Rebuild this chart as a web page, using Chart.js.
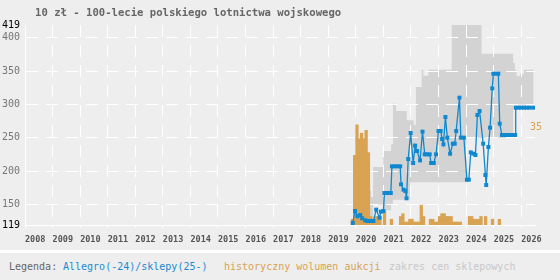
<!DOCTYPE html>
<html>
<head>
<meta charset="utf-8">
<script src="https://cdn.jsdelivr.net/npm/chart.js@4.4.1/dist/chart.umd.min.js"></script>
<style>
  body { margin: 0; background: #eeeeee; }
  #box { position: relative; width: 560px; height: 280px; overflow: hidden; background: #eeeeee; font-family: "DejaVu Sans Mono", monospace; }
  #title { position: absolute; left: 35px; top: 6px; font-size: 10.6px; line-height: 13px; font-weight: bold; color: #666; white-space: pre; }
  canvas { position: absolute; left: 0; top: 0; }
  #legend { position: absolute; left: 0; top: 250px; width: 560px; height: 27px; border-top: 3px solid #fff; font-size: 10px; }
  #legend span { position: absolute; top: 8px; line-height: 12px; white-space: pre; }
</style>
</head>
<body>
<div id="box">
  <canvas id="chart" width="560" height="250"></canvas>
  <div id="title">10 zł - 100-lecie polskiego lotnictwa wojskowego</div>
  <div id="legend">
    <span style="left:9px;color:#666">Legenda:</span>
    <span style="left:63px;color:#1a8ad0">Allegro(-24)/sklepy(25-)</span>
    <span style="left:224px;color:#d8a352">historyczny wolumen aukcji</span>
    <span style="left:389px;color:#c8c8c8">zakres cen sklepowych</span>
  </div>
</div>
<script>
// axis ticks
const tickYears = [2008, 2009, 2010, 2011, 2012, 2013, 2014, 2015, 2016, 2017,
                   2018, 2019, 2020, 2021, 2022, 2023, 2024, 2025, 2026];
const priceTicks = [119, 150, 200, 250, 300, 350, 400, 419];
const volumeTicks = [35];

// Allegro / shop price (decimal year, zł)
const priceYears = [
  2019.89, 2019.97, 2020.06, 2020.16, 2020.23, 2020.34, 2020.42, 2020.54, 2020.64, 2020.74,
  2020.86, 2020.91, 2021.00, 2021.04, 2021.15, 2021.27, 2021.31, 2021.41, 2021.51, 2021.61,
  2021.64, 2021.73, 2021.80, 2021.84, 2021.90, 2021.99, 2022.08, 2022.15, 2022.22, 2022.33,
  2022.42, 2022.50, 2022.59, 2022.68, 2022.73, 2022.83, 2022.91, 2023.00, 2023.08, 2023.13,
  2023.18, 2023.25, 2023.32, 2023.42, 2023.52, 2023.59, 2023.64, 2023.76, 2023.81, 2023.92,
  2024.03, 2024.10, 2024.17, 2024.26, 2024.34, 2024.41, 2024.49, 2024.62, 2024.70, 2024.73,
  2024.81, 2024.87, 2024.95, 2024.99, 2025.08, 2025.17, 2025.22, 2025.30, 2025.40, 2025.50,
  2025.60, 2025.70, 2025.78, 2025.80, 2025.90, 2026.00, 2026.10, 2026.20, 2026.30, 2026.44
];
const priceValues = [
  122, 140, 132, 134, 129, 126, 125, 125, 125, 142,
  130, 139, 140, 167, 167, 167, 207, 207, 207, 207,
  180, 172, 170, 159, 218, 257, 212, 238, 230, 216,
  259, 225, 225, 225, 212, 212, 225, 260, 260, 248,
  240, 281, 250, 226, 241, 241, 260, 310, 250, 250,
  187, 187, 228, 226, 224, 284, 290, 241, 194, 179,
  236, 265, 324, 346, 346, 346, 271, 254, 254, 254,
  254, 254, 254, 295, 295, 295, 295, 295, 295, 295
];

// shop price range (each value holds until the next date)
const bandYears = [2019.92, 2020.55, 2020.63, 2021.00, 2021.28, 2021.35, 2021.46, 2021.85, 2021.97, 2022.10,
                   2022.18, 2022.39, 2022.45, 2022.63, 2023.48, 2024.01, 2024.56, 2025.71, 2025.77, 2025.83,
                   2025.95, 2026.10, 2026.21, 2026.45];
const bandMin = [119, 119, 119, 150, 141, 150, 157, 157, 157, 183,
                 183, 183, 183, 183, 183, 183, 250, 250, 300, 300,
                 300, 300, 300, 300];
const bandMax = [276, 171, 161, 206, 230, 240, 301, 290, 276, 276,
                 269, 326, 352, 343, 352, 419, 419, 376, 362, 352,
                 342, 346, 352, 352];

// monthly auction volume
const volumeMonths = [
  '2019-11', '2019-12', '2020-01', '2020-02', '2020-03', '2020-04', '2020-05', '2020-06', '2020-07', '2020-08',
  '2020-09', '2020-10', '2020-11', '2021-01', '2021-04', '2021-08', '2021-09', '2021-10', '2021-11', '2021-12',
  '2022-01', '2022-02', '2022-03', '2022-04', '2022-05', '2022-06', '2022-09', '2022-10', '2022-11', '2022-12',
  '2023-01', '2023-02', '2023-03', '2023-04', '2023-05', '2023-06', '2023-07', '2023-08', '2023-09', '2023-10',
  '2024-02', '2024-03', '2024-04', '2024-05', '2024-06', '2024-07', '2024-09', '2024-12', '2025-03'
];
const volumeCounts = [
  2, 25, 36, 31, 33, 31, 34, 26, 3, 2,
  3, 3, 3, 5, 2, 3, 4, 1, 1, 2,
  2, 1, 1, 1, 7, 3, 2, 2, 1, 1,
  3, 4, 4, 3, 3, 3, 1, 1, 1, 1,
  3, 3, 2, 2, 2, 3, 3, 2, 2
];

const BLUE = '#0f88d0';
const ORANGE = '#d8a352';
const BAND = '#d3d3d3';

const monthToYear = s => {
  const [y, m] = s.split('-').map(Number);
  return y + (m - 0.5) / 12;
};

// white grid goes over the grey price band
const gridOverBand = {
  id: 'gridOverBand',
  afterDatasetDraw(chart, args) {
    if (args.index !== 3) return;
    chart.scales.x.drawGrid(chart.chartArea);
    chart.scales.y.drawGrid(chart.chartArea);
  }
};

const isEdge = v => v === 119 || v === 419;

new Chart(document.getElementById('chart'), {
  data: {
    datasets: [
      {
        type: 'line',
        data: priceYears.map((x, i) => ({ x, y: priceValues[i] })),
        borderColor: BLUE,
        borderWidth: 1.3,
        pointStyle: 'rect',
        pointRadius: 2.8,
        pointBorderWidth: 0,
        pointBackgroundColor: BLUE,
        order: 0
      },
      {
        type: 'bar',
        yAxisID: 'y2',
        data: volumeMonths.map((m, i) => ({ x: monthToYear(m), y: volumeCounts[i] })),
        backgroundColor: ORANGE,
        barPercentage: 1,
        categoryPercentage: 1,
        borderWidth: 0,
        inflateAmount: 0.5,
        order: 1
      },
      {
        type: 'line',
        data: bandYears.map((x, i) => ({ x, y: bandMin[i] })),
        stepped: 'after',
        borderWidth: 0,
        pointRadius: 0,
        fill: false,
        order: 2
      },
      {
        type: 'line',
        data: bandYears.map((x, i) => ({ x, y: bandMax[i] })),
        stepped: 'after',
        borderWidth: 0,
        pointRadius: 0,
        backgroundColor: BAND,
        fill: '-1',
        order: 3
      }
    ]
  },
  options: {
    responsive: false,
    animation: false,
    devicePixelRatio: 1,
    layout: { padding: { top: 25, left: 0, right: 0, bottom: 0 } },
    plugins: { legend: { display: false }, tooltip: { enabled: false } },
    scales: {
      x: {
        type: 'linear',
        min: 2008,
        max: 2026.5,
        offset: false,
        afterBuildTicks: s => { s.ticks = tickYears.map(v => ({ value: v })); },
        afterFit: s => { s.height = 25; },
        ticks: {
          align: 'start',
          autoSkip: false,
          maxRotation: 0,
          padding: 7,
          color: '#555',
          font: { family: 'DejaVu Sans Mono', size: 8.5, weight: 'bold' },
          callback: v => String(v)
        },
        grid: { offset: false, color: '#fff', lineWidth: 1, tickLength: 3, tickColor: '#fff' },
        border: { color: '#fff', width: 1, dash: [12, 8] }
      },
      y: {
        min: 119,
        max: 419,
        afterBuildTicks: s => { s.ticks = priceTicks.map(v => ({ value: v })); },
        afterFit: s => { s.width = 25; },
        ticks: {
          padding: 5,
          color: c => isEdge(c.tick.value) ? '#000' : '#777',
          font: { family: 'DejaVu Sans Mono', size: 10 },
          callback: v => String(v)
        },
        grid: {
          drawTicks: false,
          lineWidth: 1,
          color: c => (c.tick && isEdge(c.tick.value)) ? 'rgba(0,0,0,0)' : '#fff'
        },
        border: { color: '#fff', width: 1, dash: [12, 8] }
      },
      y2: {
        position: 'right',
        min: 0,
        max: 72,
        afterBuildTicks: s => { s.ticks = volumeTicks.map(v => ({ value: v })); },
        afterFit: s => { s.width = 25; },
        ticks: {
          mirror: true,
          padding: 7,
          color: ORANGE,
          font: { family: 'DejaVu Sans Mono', size: 10 },
          callback: v => String(v)
        },
        grid: { display: false, drawTicks: false },
        border: { display: false }
      }
    }
  },
  plugins: [gridOverBand]
});
</script>
</body>
</html>
